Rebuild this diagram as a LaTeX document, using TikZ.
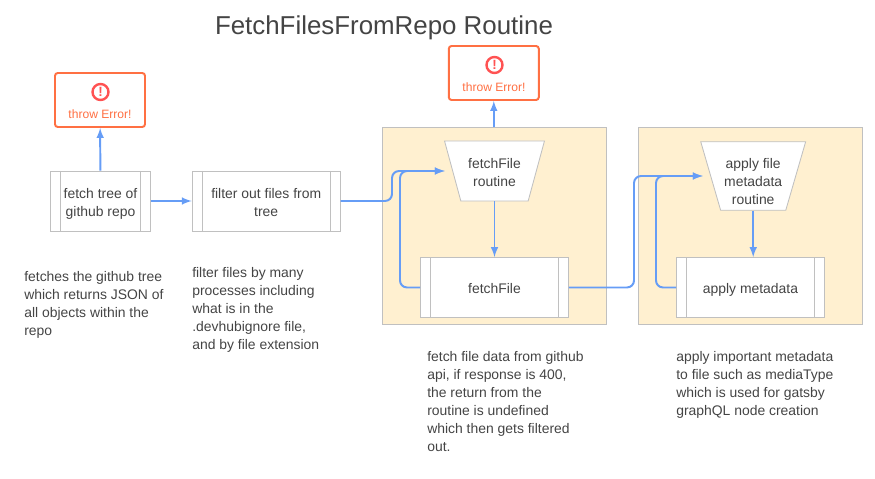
\documentclass[tikz,border=0pt]{standalone}
\usepackage{xcolor}
\usepackage{fontspec}
\setmainfont{Liberation Sans}
\usetikzlibrary{shapes,arrows,positioning,calc}
\definecolor{panelfill}{RGB}{255,240,208}
\definecolor{boxgray}{RGB}{192,192,192}
\definecolor{flowblue}{RGB}{102,157,246}
\definecolor{errorange}{RGB}{255,112,67}
\definecolor{errred}{RGB}{255,82,82}
\definecolor{labelgray}{RGB}{68,68,68}
\newcommand{\toppad}[1]{\rule{0pt}{#1}}

\begin{document}
\begin{tikzpicture}[
    x=0.025cm, y=-0.025cm,
    every node/.style={font=\fontsize{9.9pt}{12.8pt}\selectfont, text=labelgray},
    panel/.style={draw=boxgray, line width=0.6pt, fill=panelfill, minimum width=5.6cm, minimum height=4.93cm},
    textstrut/.style={execute at begin node=\rule{0pt}{10.6pt}, execute at end node=\rule[-2pt]{0pt}{2pt}},
    process/.style={draw=boxgray, line width=0.6pt, fill=white, minimum height=1.5cm, align=center, inner sep=0pt, textstrut,
        path picture={
            \draw[boxgray, line width=0.6pt] ([xshift=0.25cm]path picture bounding box.north west) -- ([xshift=0.25cm]path picture bounding box.south west);
            \draw[boxgray, line width=0.6pt] ([xshift=-0.25cm]path picture bounding box.north east) -- ([xshift=-0.25cm]path picture bounding box.south east);
        }},
    routine/.style={draw=boxgray, line width=0.6pt, fill=white, trapezium, shape border rotate=180, trapezium stretches=true, align=center, inner sep=0pt, textstrut},
    errbox/.style={draw=errorange, line width=1.4pt, rounded corners=2pt, fill=white, minimum width=2.25cm, minimum height=1.35cm},
    erricon/.style={draw=errred, circle, line width=1.7pt, minimum size=0.4cm, inner sep=0pt, font=\fontsize{9.5pt}{9.5pt}\selectfont\bfseries, text=errred},
    errtext/.style={font=\fontsize{8.6pt}{10pt}\selectfont, text=errorange},
    note/.style={align=left, inner sep=0pt, anchor=north west},
    flow/.style={-latex, flowblue, line width=1.4pt},
    bendflow/.style={flow, rounded corners=5pt}
]

% Panels
\node[panel] (fetchpanel) at (494.7,226.2) {};
\node[panel] (metapanel) at (750.2,226.2) {};

% Title
\node[font=\fontsize{18.4pt}{20pt}\selectfont] (title) at (384,27.5) {FetchFilesFromRepo Routine};

% First steps
\node[process, minimum width=2.5cm] (fetchtree) at (100.5,201) {\toppad{11.5pt}fetch tree of\\github repo};
\node[process, minimum width=3.7cm, right=1.02cm of fetchtree] (filterfiles) {\toppad{11.5pt}filter out files from\\tree};

% fetchFile panel
\node[routine, minimum width=2.5cm, minimum height=1.5cm, trapezium left angle=71, trapezium right angle=71] (fetchroutine) at (494.5,171) {\toppad{11.5pt}fetchFile\\routine};
\node[process, minimum width=3.7cm] (fetchfile) at (494.5,287.5) {fetchFile};

% metadata panel
\node[routine, minimum width=2.63cm, minimum height=1.71cm, trapezium left angle=74, trapezium right angle=74] (metaroutine) at (753.2,176) {\toppad{16.3pt}apply file\\metadata\\routine};
\node[process, minimum width=3.7cm] (applymeta) at (750.5,287.5) {apply metadata};

% Errors
\node[errbox] (treeerr) at (100,100) {};
\node[erricon] (treeicon) at (100.5,92) {!};
\node[errtext] (treemsg) at (100,114) {throw Error!};
\node[errbox] (fileerr) at (493.8,73) {};
\node[erricon] (fileicon) at (494.5,65) {!};
\node[errtext] (filemsg) at (494,87) {throw Error!};

% Notes
\node[note] (treenote) at (24,271) {fetches the github tree\\which returns JSON of\\all objects within the\\repo};
\node[note] (filternote) at (192,267) {filter files by many\\processes including\\what is in the\\.devhubignore file,\\and by file extension};
\node[note] (filenote) at (427,351) {fetch file data from github\\api, if response is 400,\\the return from the\\routine is undefined\\which then gets filtered\\out.};
\node[note] (metanote) at (676,351) {apply important metadata\\to file such as mediaType\\which is used for gatsby\\graphQL node creation};

% Connectors
\draw[flow] (fetchtree) -- (treeerr);
\draw[flow] (fetchtree) -- (filterfiles);
\draw[bendflow, shorten >=0.19cm] (filterfiles.east) -- (392,201) -- (392,171) -- (fetchroutine.west);
\draw[bendflow, shorten >=0.19cm] (fetchfile.west) -- (400,287.5) -- (400,171) -- (fetchroutine.west);
\draw[flow] (fetchroutine.south) -- (fetchroutine.south |- fetchfile.north);
\draw[flow] (fileerr.south |- fetchpanel.north) -- (fileerr.south);
\draw[bendflow, shorten >=0.19cm] (fetchfile.east) -- (634,287.5) -- (634,176) -- (metaroutine.west);
\draw[bendflow, shorten >=0.19cm] (applymeta.west) -- (656,287.5) -- (656,176) -- (metaroutine.west);
\draw[flow] (metaroutine.south) -- (metaroutine.south |- applymeta.north);

\useasboundingbox (0,0) rectangle (875,479);
\end{tikzpicture}
\end{document}
